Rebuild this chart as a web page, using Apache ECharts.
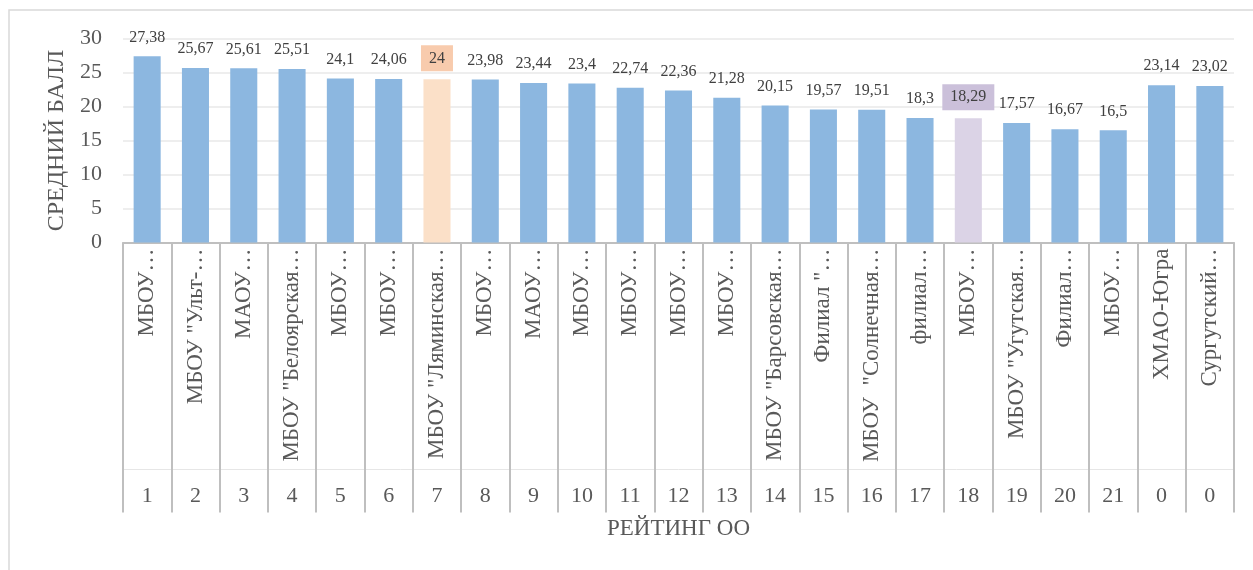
<!DOCTYPE html>
<html>
<head>
<meta charset="utf-8">
<title>Рейтинг ОО</title>
<script src="https://cdn.jsdelivr.net/npm/echarts@6/dist/echarts.min.js"></script>
<style>
  html, body { margin: 0; padding: 0; background: #fff; }
  #chart { width: 1253px; height: 570px; }
</style>
</head>
<body>
<div id="chart"></div>
<script>
// данные
var names = ['МБОУ…', 'МБОУ "Ульт-…', 'МАОУ…', 'МБОУ "Белоярская…', 'МБОУ…', 'МБОУ…',
    'МБОУ "Ляминская…', 'МБОУ…', 'МАОУ…', 'МБОУ…', 'МБОУ…', 'МБОУ…', 'МБОУ…',
    'МБОУ "Барсовская…', 'Филиал "…', 'МБОУ  "Солнечная…', 'филиал…', 'МБОУ…',
    'МБОУ "Угутская…', 'Филиал…', 'МБОУ…', 'ХМАО-Югра', 'Сургутский…'];
var ranks = ['1', '2', '3', '4', '5', '6', '7', '8', '9', '10', '11', '12', '13', '14',
    '15', '16', '17', '18', '19', '20', '21', '0', '0'];
var values = [27.38, 25.67, 25.61, 25.51, 24.1, 24.06, 24, 23.98, 23.44, 23.4, 22.74,
    22.36, 21.28, 20.15, 19.57, 19.51, 18.3, 18.29, 17.57, 16.67, 16.5, 23.14, 23.02];

var yTicks = { min: 0, max: 30, step: 5 };

// выделенные столбцы (индекс -> цвета)
var highlight = {
    6: { bar: '#fbe0c8', box: '#f8cbad' },
    17: { bar: '#dbd3e6', box: '#cbc0da' }
};

var FONT = '"Liberation Serif", "Times New Roman", serif';
var TXT = '#595959';

var myChart = echarts.init(document.getElementById('chart'));

var barData = values.map(function (v, i) {
    var h = highlight[i];
    if (!h) return v;
    return {
        value: v,
        itemStyle: { color: h.bar },
        label: { backgroundColor: h.box, padding: [5, 8], distance: 8 }
    };
});

var option = {
    animation: false,
    backgroundColor: '#fff',
    graphic: [{
        type: 'rect',
        shape: { x: 9, y: 10, width: 1400, height: 700 },
        style: { fill: 'none', stroke: '#d9d9d9', lineWidth: 1.5 },
        silent: true
    }],
    grid: {
        left: 123,
        right: 19,
        top: 38.5,
        bottom: 327.5
    },
    xAxis: [
        {
            type: 'category',
            data: names,
            axisLine: { lineStyle: { color: '#bfbfbf', width: 2 } },
            // вертикальные разделители категорий
            axisTick: {
                show: true,
                interval: 0,
                length: 270,
                lineStyle: { color: '#bfbfbf', width: 2 }
            },
            axisLabel: {
                interval: 0,
                rotate: 90,
                margin: 6,
                fontFamily: FONT,
                fontSize: 23,
                color: TXT
            }
        },
        {
            type: 'category',
            data: ranks,
            position: 'bottom',
            offset: 227,
            axisLine: { lineStyle: { color: '#e6e6e6', width: 1 } },
            axisTick: { show: false },
            axisLabel: {
                interval: 0,
                margin: 16,
                fontFamily: FONT,
                fontSize: 22,
                color: TXT
            },
            name: 'РЕЙТИНГ ОО',
            nameLocation: 'middle',
            nameGap: 48,
            nameTextStyle: { fontFamily: FONT, fontSize: 23, color: TXT }
        }
    ],
    yAxis: {
        type: 'value',
        min: yTicks.min,
        max: yTicks.max,
        interval: yTicks.step,
        name: 'СРЕДНИЙ БАЛЛ',
        nameLocation: 'middle',
        nameGap: 52,
        nameTextStyle: { fontFamily: FONT, fontSize: 24, color: TXT },
        axisLine: { show: false },
        axisTick: { show: false },
        axisLabel: { margin: 21, fontFamily: FONT, fontSize: 22, color: TXT },
        splitLine: { lineStyle: { color: '#e8e8e8', width: 1.5 } }
    },
    series: [{
        name: 'Средний балл',
        type: 'bar',
        xAxisIndex: 0,
        barWidth: '56%',
        data: barData,
        itemStyle: { color: '#8cb7e0' },
        label: {
            show: true,
            position: 'top',
            distance: 11,
            fontFamily: FONT,
            fontSize: 16,
            color: '#404040',
            formatter: function (p) {
                return String(p.value).replace('.', ',');
            }
        }
    }]
};

myChart.setOption(option);
</script>
</body>
</html>
